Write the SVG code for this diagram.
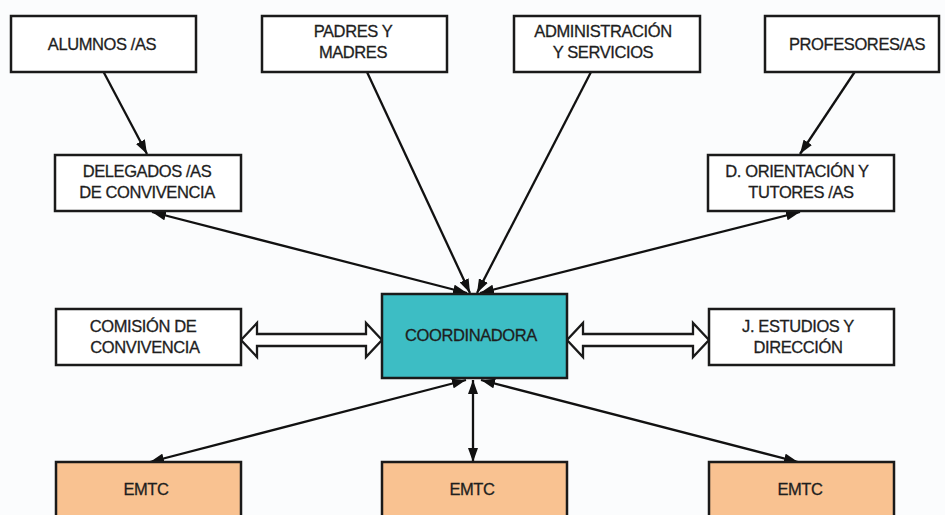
<svg xmlns="http://www.w3.org/2000/svg" width="945" height="515" viewBox="0 0 945 515">
<defs>
<marker id="ah" viewBox="0 0 14 10" refX="14" refY="5" markerWidth="14" markerHeight="10" markerUnits="userSpaceOnUse" orient="auto-start-reverse">
<path d="M0,0 L14,5 L0,10 Z" fill="#111"/>
</marker>
</defs>
<style>
.box{fill:#ffffff;stroke:#1a1a1a;stroke-width:2.5}
.coord{fill:#3dbdc4;stroke:#1a1a1a;stroke-width:2.5}
.emtc{fill:#f9c291;stroke:#1a1a1a;stroke-width:2.5}
.t{font-family:"Liberation Sans",Arial,sans-serif;font-size:16.5px;letter-spacing:-0.4px;fill:#1e1e1e;stroke:#1e1e1e;stroke-width:0.3;text-anchor:middle}
.ln{stroke:#111;stroke-width:2.3;fill:none}
.one{marker-end:url(#ah)}
.two{marker-start:url(#ah);marker-end:url(#ah)}
.hollow{fill:#ffffff;stroke:#1a1a1a;stroke-width:2.3;stroke-linejoin:miter}
</style>
<rect width="945" height="515" fill="#fbfcfd"/>
<g id="connectors">
<line class="ln one" x1="102" y1="69" x2="147" y2="154"/>
<line class="ln one" x1="367" y1="72" x2="470" y2="293"/>
<line class="ln one" x1="591" y1="72" x2="477" y2="293"/>
<line class="ln one" x1="856" y1="70" x2="800" y2="154"/>
<line class="ln two" x1="152" y1="212" x2="467" y2="293"/>
<line class="ln two" x1="800" y1="212" x2="480" y2="293"/>
<line class="ln two" x1="466" y1="380" x2="150" y2="462"/>
<line class="ln two" x1="473" y1="380" x2="473" y2="462"/>
<line class="ln two" x1="481" y1="380" x2="798" y2="462"/>
<path class="hollow" d="M241,340 L257,323 L257,334 L366,334 L366,323 L382,340 L366,357 L366,346 L257,346 L257,357 Z"/>
<path class="hollow" d="M567,340 L583,323 L583,334 L693,334 L693,323 L709,340 L693,357 L693,346 L583,346 L583,357 Z"/>
</g>
<g id="alumnos"><rect class="box" x="11" y="16" width="185" height="56"/><text class="t" x="102" y="50">ALUMNOS /AS</text></g>
<g id="padres"><rect class="box" x="262" y="16" width="185" height="56"/><text class="t" x="353" y="37">PADRES Y</text><text class="t" x="353" y="58">MADRES</text></g>
<g id="administracion"><rect class="box" x="514" y="16" width="186" height="56"/><text class="t" x="603" y="37">ADMINISTRACIÓN</text><text class="t" x="603" y="58">Y SERVICIOS</text></g>
<g id="profesores"><rect class="box" x="765" y="16" width="174" height="56"/><text class="t" x="857" y="50">PROFESORES/AS</text></g>
<g id="delegados"><rect class="box" x="55" y="155" width="186" height="56"/><text class="t" x="147" y="177">DELEGADOS /AS</text><text class="t" x="147" y="198">DE CONVIVENCIA</text></g>
<g id="orientacion"><rect class="box" x="708" y="155" width="186" height="56"/><text class="t" x="797" y="177">D. ORIENTACIÓN Y</text><text class="t" x="801" y="198">TUTORES /AS</text></g>
<g id="comision"><rect class="box" x="56" y="309" width="185" height="56"/><text class="t" x="143" y="332">COMISIÓN DE</text><text class="t" x="145" y="353">CONVIVENCIA</text></g>
<g id="coordinadora"><rect class="coord" x="382" y="294" width="185" height="84"/><text class="t" x="471" y="341">COORDINADORA</text></g>
<g id="estudios"><rect class="box" x="709" y="309" width="185" height="56"/><text class="t" x="798" y="332">J. ESTUDIOS Y</text><text class="t" x="798" y="353">DIRECCIÓN</text></g>
<g id="emtc1"><rect class="emtc" x="56" y="462" width="185" height="60"/><text class="t" x="146" y="495">EMTC</text></g>
<g id="emtc2"><rect class="emtc" x="382" y="462" width="185" height="60"/><text class="t" x="472" y="495">EMTC</text></g>
<g id="emtc3"><rect class="emtc" x="709" y="462" width="185" height="60"/><text class="t" x="800" y="495">EMTC</text></g>
</svg>
